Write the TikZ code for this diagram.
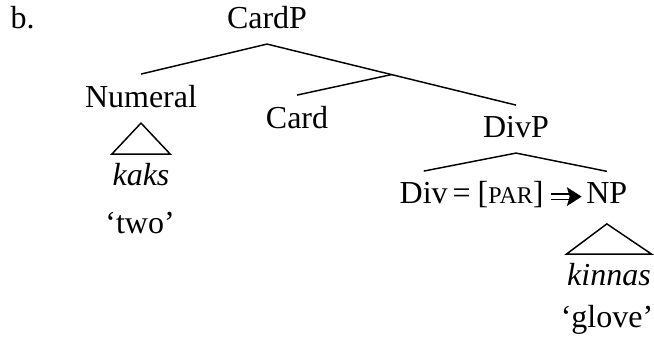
\documentclass[12pt,tikz,border=0pt]{standalone}
\usepackage{fontspec}
\setmainfont{Liberation Serif}
\usetikzlibrary{arrows.meta}

\tikzset{
  cat/.style={anchor=base, inner xsep=0pt, inner ysep=3.75pt, text depth=2pt},
  leaf/.style={anchor=base, inner xsep=0pt, inner ysep=3pt, font=\itshape},
  gloss/.style={anchor=base, inner sep=0pt},
  parrow/.style={double, double distance=1.5pt, -{Stealth[length=5.5pt,width=7pt,inset=1pt]}},
}

\begin{document}
\begin{tikzpicture}[x=0.375pt, y=-0.375pt, line width=0.55pt]
\useasboundingbox (0,0) rectangle (654,341);
% labels
\node[gloss, anchor=base west] (ex) at (10,28) {b.};
\node[cat] (cardp) at (267,28) {CardP};
\node[cat] (numeral) at (141,107) {Numeral};
\node[cat] (card) at (297,128) {Card};
\node[cat] (divp) at (516,137) {DivP};
\node[cat, anchor=base west] (div) at (399,203) {Div};
\node[gloss, anchor=base west] (eq) at (452,203) {=};
\node[gloss, anchor=base west] (par) at (477,203) {[{\fontsize{9}{9}\selectfont PAR}]};
\node[cat, anchor=base east] (np) at (628,203) {NP};
\node[leaf] (kaks) at (141,185) {kaks};
\node[gloss] (two) at (140,233) {`two'};
\node[leaf] (kinnas) at (609,285) {kinnas};
\node[gloss] (glove) at (607,327) {`glove'};
% branches
\draw (cardp.south) -- (numeral.north);
\draw (cardp.south) -- coordinate[pos=0.5] (cardbar) (divp.north);
\draw (cardbar) -- (card.north);
\draw (divp.south) -- (div.north);
\draw (divp.south) -- (np.north);
% roofs
\draw (numeral.south) -- (kaks.north west) -- (kaks.north east) -- cycle;
\draw ([yshift=-1.8pt]np.south) -- (kinnas.north west) -- (kinnas.north east) -- cycle;
\draw[parrow, shorten <=2.5pt, shorten >=1.5pt] ([yshift=2.4pt]par.base east) -- ([yshift=2.4pt]np.base west);
\end{tikzpicture}
\end{document}
